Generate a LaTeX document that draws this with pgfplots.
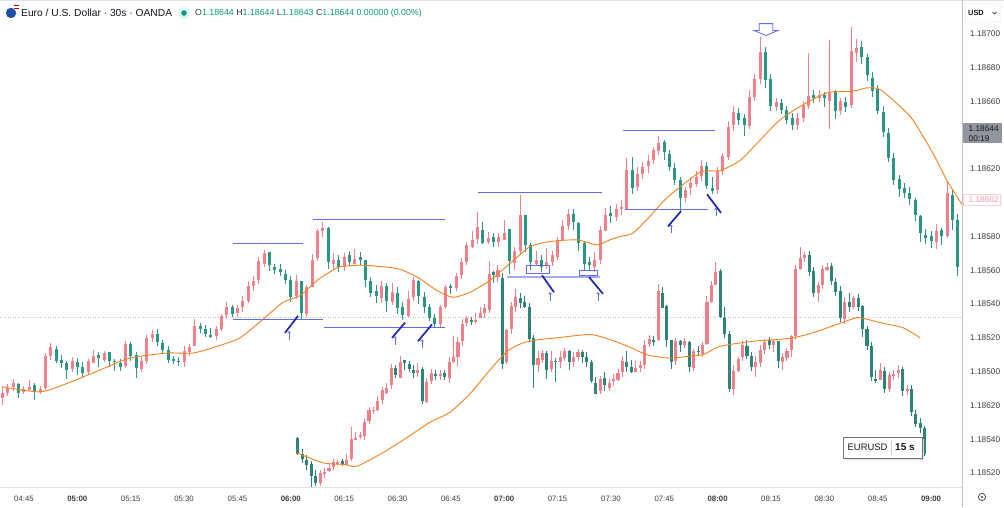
\documentclass[border=0pt]{standalone}
\usepackage{fontspec}
\setmainfont{Liberation Sans}
\usepackage{pgfplots}
\pgfplotsset{compat=1.18}
\usepackage{pgfplotstable}
\usetikzlibrary{arrows.meta}
\definecolor{upc}{RGB}{240,128,138}
\definecolor{dnc}{RGB}{44,150,134}
\definecolor{upl}{RGB}{238,128,138}
\definecolor{dnl}{RGB}{46,132,120}
\definecolor{maor}{RGB}{247,128,30}
\definecolor{bl}{RGB}{98,108,228}
\definecolor{bll}{RGB}{165,170,238}
\definecolor{bld}{RGB}{32,38,172}
\definecolor{txt}{RGB}{19,23,34}
\definecolor{tl}{RGB}{60,62,70}
\definecolor{tvg}{RGB}{8,153,129}
\definecolor{sep}{RGB}{190,193,200}
\definecolor{sep2}{RGB}{222,224,230}
\definecolor{gbox}{RGB}{146,149,157}
\definecolor{pinkc}{RGB}{244,150,170}
\definecolor{pinkb}{RGB}{250,205,215}
\definecolor{flagb}{RGB}{30,80,170}
\definecolor{halo}{RGB}{225,243,238}

\pgfplotstableread{
x o h l c
-6 1.18486 1.18492 1.18481 1.18489
-4.5 1.18489 1.18494 1.18487 1.18492
-3 1.18492 1.18496 1.18489 1.18494
-1.5 1.18494 1.18495 1.18486 1.18489
0 1.18489 1.18493 1.18488 1.18491
1.5 1.18491 1.18496 1.18490 1.18493
3 1.18493 1.18494 1.18484 1.18489
4.5 1.18489 1.18493 1.18488 1.18491
6 1.18491 1.18512 1.18490 1.18510
7.5 1.18510 1.18518 1.18508 1.18515
9 1.18515 1.18516 1.18506 1.18508
10.5 1.18508 1.18510 1.18502 1.18506
12 1.18506 1.18508 1.18497 1.18502
13.5 1.18502 1.18509 1.18500 1.18507
15 1.18507 1.18509 1.18499 1.18504
16.5 1.18504 1.18506 1.18497 1.18500
18 1.18500 1.18508 1.18499 1.18506
19.5 1.18506 1.18513 1.18505 1.18510
21 1.18510 1.18512 1.18503 1.18508
22.5 1.18508 1.18513 1.18506 1.18512
24 1.18512 1.18513 1.18504 1.18507
25.5 1.18507 1.18509 1.18502 1.18506
27 1.18506 1.18508 1.18501 1.18504
28.5 1.18504 1.18519 1.18503 1.18517
30 1.18517 1.18518 1.18507 1.18510
31.5 1.18510 1.18512 1.18497 1.18502
33 1.18502 1.18509 1.18500 1.18507
34.5 1.18507 1.18523 1.18506 1.18521
36 1.18521 1.18526 1.18519 1.18523
37.5 1.18523 1.18525 1.18515 1.18518
39 1.18518 1.18520 1.18512 1.18514
40.5 1.18514 1.18516 1.18506 1.18508
42 1.18508 1.18510 1.18505 1.18507
43.5 1.18507 1.18509 1.18504 1.18506
45 1.18506 1.18515 1.18503 1.18513
46.5 1.18513 1.18518 1.18511 1.18516
48 1.18516 1.18531 1.18515 1.18528
49.5 1.18528 1.18529 1.18523 1.18526
51 1.18526 1.18528 1.18521 1.18523
52.5 1.18523 1.18526 1.18520 1.18522
54 1.18522 1.18528 1.18520 1.18526
55.5 1.18526 1.18535 1.18525 1.18534
57 1.18534 1.18542 1.18532 1.18539
58.5 1.18539 1.18541 1.18534 1.18535
60 1.18535 1.18540 1.18533 1.18538
61.5 1.18538 1.18545 1.18536 1.18542
63 1.18542 1.18554 1.18541 1.18551
64.5 1.18551 1.18557 1.18548 1.18554
66 1.18554 1.18568 1.18552 1.18565
67.5 1.18565 1.18573 1.18563 1.18571
69 1.18571 1.18572 1.18561 1.18563
70.5 1.18563 1.18565 1.18559 1.18561
72 1.18561 1.18564 1.18557 1.18559
73.5 1.18559 1.18561 1.18553 1.18555
75 1.18555 1.18557 1.18542 1.18545
76.5 1.18545 1.18558 1.18544 1.18554
78 1.18554 1.18555 1.18532 1.18535
79.5 1.18535 1.18553 1.18534 1.18551
81 1.18551 1.18569 1.18550 1.18567
82.5 1.18567 1.18585 1.18566 1.18583
84 1.18583 1.18589 1.18580 1.18585
85.5 1.18585 1.18586 1.18561 1.18565
87 1.18565 1.18571 1.18561 1.18567
88.5 1.18567 1.18570 1.18560 1.18563
90 1.18563 1.18572 1.18561 1.18569
91.5 1.18569 1.18572 1.18563 1.18565
93 1.18565 1.18573 1.18564 1.18568
94.5 1.18568 1.18572 1.18564 1.18566
96 1.18566 1.18567 1.18551 1.18554
97.5 1.18554 1.18557 1.18545 1.18547
99 1.18547 1.18551 1.18540 1.18544
100.5 1.18544 1.18554 1.18541 1.18551
102 1.18551 1.18553 1.18536 1.18542
103.5 1.18542 1.18552 1.18539 1.18548
105 1.18548 1.18551 1.18535 1.18539
106.5 1.18539 1.18542 1.18531 1.18534
108 1.18534 1.18547 1.18532 1.18544
109.5 1.18544 1.18556 1.18542 1.18554
111 1.18554 1.18555 1.18541 1.18545
112.5 1.18545 1.18548 1.18536 1.18539
114 1.18539 1.18541 1.18531 1.18533
115.5 1.18533 1.18535 1.18527 1.18529
117 1.18529 1.18541 1.18528 1.18539
118.5 1.18539 1.18552 1.18538 1.18551
120 1.18551 1.18553 1.18547 1.18550
121.5 1.18550 1.18559 1.18548 1.18557
123 1.18557 1.18567 1.18555 1.18565
124.5 1.18565 1.18577 1.18563 1.18575
126 1.18575 1.18583 1.18573 1.18579
127.5 1.18579 1.18596 1.18577 1.18586
129 1.18586 1.18589 1.18576 1.18578
130.5 1.18578 1.18583 1.18576 1.18580
132 1.18580 1.18582 1.18574 1.18577
133.5 1.18577 1.18583 1.18575 1.18580
135 1.18580 1.18590 1.18579 1.18584
136.5 1.18584 1.18585 1.18559 1.18565
138 1.18565 1.18575 1.18561 1.18572
139.5 1.18572 1.18605 1.18570 1.18593
141 1.18593 1.18594 1.18572 1.18575
142.5 1.18575 1.18577 1.18561 1.18565
144 1.18565 1.18572 1.18563 1.18567
145.5 1.18567 1.18570 1.18560 1.18563
147 1.18563 1.18573 1.18561 1.18565
148.5 1.18565 1.18572 1.18563 1.18569
150 1.18569 1.18581 1.18567 1.18579
151.5 1.18579 1.18590 1.18578 1.18587
153 1.18587 1.18597 1.18585 1.18594
154.5 1.18594 1.18596 1.18584 1.18589
156 1.18589 1.18590 1.18573 1.18577
157.5 1.18577 1.18578 1.18561 1.18565
159 1.18565 1.18568 1.18560 1.18563
160.5 1.18563 1.18572 1.18560 1.18567
162 1.18567 1.18587 1.18565 1.18585
163.5 1.18585 1.18597 1.18583 1.18594
165 1.18594 1.18599 1.18589 1.18592
166.5 1.18592 1.18600 1.18590 1.18597
168 1.18597 1.18602 1.18593 1.18598
169.5 1.18598 1.18627 1.18596 1.18621
171 1.18621 1.18628 1.18606 1.18610
172.5 1.18610 1.18622 1.18608 1.18618
174 1.18618 1.18625 1.18615 1.18622
175.5 1.18622 1.18630 1.18619 1.18625
177 1.18625 1.18634 1.18624 1.18631
178.5 1.18631 1.18641 1.18630 1.18636
180 1.18636 1.18638 1.18626 1.18630
181.5 1.18630 1.18632 1.18619 1.18622
183 1.18622 1.18625 1.18612 1.18615
184.5 1.18615 1.18616 1.18596 1.18604
186 1.18604 1.18611 1.18602 1.18609
187.5 1.18609 1.18616 1.18605 1.18612
189 1.18612 1.18619 1.18610 1.18616
190.5 1.18616 1.18625 1.18613 1.18622
192 1.18622 1.18624 1.18608 1.18610
193.5 1.18610 1.18615 1.18605 1.18608
195 1.18608 1.18622 1.18606 1.18619
196.5 1.18619 1.18631 1.18618 1.18628
198 1.18628 1.18649 1.18626 1.18646
199.5 1.18646 1.18658 1.18643 1.18654
201 1.18654 1.18656 1.18646 1.18650
202.5 1.18650 1.18654 1.18641 1.18646
204 1.18646 1.18667 1.18644 1.18663
205.5 1.18663 1.18677 1.18661 1.18674
207 1.18674 1.18699 1.18671 1.18690
208.5 1.18690 1.18693 1.18669 1.18673
210 1.18673 1.18676 1.18654 1.18657
211.5 1.18657 1.18663 1.18655 1.18660
213 1.18660 1.18662 1.18653 1.18656
214.5 1.18656 1.18658 1.18647 1.18650
216 1.18650 1.18653 1.18643 1.18646
217.5 1.18646 1.18654 1.18644 1.18650
219 1.18650 1.18661 1.18649 1.18658
220.5 1.18658 1.18689 1.18656 1.18664
222 1.18664 1.18667 1.18659 1.18662
223.5 1.18662 1.18667 1.18660 1.18664
225 1.18664 1.18667 1.18658 1.18662
226.5 1.18662 1.18698 1.18645 1.18667
228 1.18667 1.18668 1.18651 1.18655
229.5 1.18655 1.18663 1.18653 1.18661
231 1.18661 1.18664 1.18655 1.18658
232.5 1.18658 1.18704 1.18656 1.18690
234 1.18690 1.18698 1.18684 1.18693
235.5 1.18693 1.18696 1.18682 1.18687
237 1.18687 1.18689 1.18673 1.18676
238.5 1.18676 1.18679 1.18664 1.18668
240 1.18668 1.18670 1.18653 1.18655
241.5 1.18655 1.18657 1.18639 1.18643
243 1.18643 1.18645 1.18625 1.18628
244.5 1.18628 1.18631 1.18612 1.18615
246 1.18615 1.18617 1.18604 1.18609
247.5 1.18609 1.18612 1.18603 1.18606
249 1.18606 1.18610 1.18599 1.18602
250.5 1.18602 1.18604 1.18590 1.18593
252 1.18593 1.18594 1.18578 1.18583
253.5 1.18583 1.18586 1.18577 1.18581
255 1.18581 1.18584 1.18574 1.18578
256.5 1.18578 1.18589 1.18574 1.18585
258 1.18585 1.18587 1.18577 1.18581
259.5 1.18581 1.18613 1.18579 1.18606
261 1.18606 1.18609 1.18585 1.18591
262.5 1.18591 1.18593 1.18556 1.18563
}\uppertab

\pgfplotstableread{
x o h l c
77 1.18461 1.18462 1.18451 1.18452
78.25 1.18452 1.18454 1.18446 1.18449
79.5 1.18449 1.18451 1.18442 1.18446
80.75 1.18446 1.18448 1.18432 1.18439
82 1.18439 1.18443 1.18433 1.18435
83.25 1.18435 1.18442 1.18433 1.18441
84.5 1.18441 1.18444 1.18438 1.18442
85.75 1.18442 1.18446 1.18441 1.18444
87 1.18444 1.18449 1.18443 1.18447
88.25 1.18447 1.18449 1.18446 1.18448
89.5 1.18448 1.18449 1.18445 1.18446
90.75 1.18446 1.18451 1.18445 1.18449
92 1.18449 1.18468 1.18448 1.18461
93.25 1.18461 1.18465 1.18460 1.18462
94.5 1.18462 1.18465 1.18461 1.18463
95.75 1.18463 1.18474 1.18461 1.18471
97 1.18471 1.18480 1.18470 1.18477
98.25 1.18477 1.18480 1.18476 1.18478
99.5 1.18478 1.18486 1.18477 1.18483
100.75 1.18483 1.18491 1.18481 1.18489
102 1.18489 1.18495 1.18488 1.18492
103.25 1.18492 1.18505 1.18490 1.18502
104.5 1.18502 1.18504 1.18496 1.18498
105.75 1.18498 1.18509 1.18497 1.18507
107 1.18507 1.18508 1.18502 1.18505
108.25 1.18505 1.18507 1.18500 1.18502
109.5 1.18502 1.18505 1.18497 1.18500
110.75 1.18500 1.18506 1.18498 1.18502
112 1.18502 1.18504 1.18482 1.18483
113.25 1.18483 1.18497 1.18482 1.18495
114.5 1.18495 1.18502 1.18493 1.18500
115.75 1.18500 1.18502 1.18496 1.18499
117 1.18499 1.18502 1.18496 1.18500
118.25 1.18500 1.18502 1.18496 1.18498
119.5 1.18498 1.18510 1.18495 1.18507
120.75 1.18507 1.18522 1.18506 1.18510
122 1.18510 1.18521 1.18504 1.18519
123.25 1.18519 1.18532 1.18516 1.18529
124.5 1.18529 1.18534 1.18528 1.18532
125.75 1.18532 1.18534 1.18529 1.18531
127 1.18531 1.18535 1.18529 1.18532
128.25 1.18532 1.18538 1.18532 1.18535
129.5 1.18535 1.18541 1.18533 1.18538
130.75 1.18538 1.18566 1.18535 1.18559
132 1.18559 1.18561 1.18554 1.18557
133.25 1.18557 1.18563 1.18553 1.18561
134.5 1.18557 1.18560 1.18503 1.18506
135.75 1.18506 1.18526 1.18505 1.18525
137 1.18525 1.18542 1.18523 1.18539
138.25 1.18539 1.18550 1.18536 1.18545
139.5 1.18545 1.18548 1.18539 1.18542
140.75 1.18542 1.18545 1.18538 1.18539
142 1.18539 1.18541 1.18518 1.18520
143.25 1.18520 1.18522 1.18491 1.18504
144.5 1.18504 1.18512 1.18500 1.18508
145.75 1.18508 1.18514 1.18506 1.18512
147 1.18512 1.18513 1.18496 1.18502
148.25 1.18502 1.18512 1.18500 1.18507
149.5 1.18507 1.18509 1.18495 1.18506
150.75 1.18506 1.18513 1.18503 1.18509
152 1.18509 1.18515 1.18507 1.18513
153.25 1.18513 1.18514 1.18502 1.18506
154.5 1.18506 1.18513 1.18504 1.18509
155.75 1.18509 1.18514 1.18507 1.18512
157 1.18512 1.18514 1.18506 1.18509
158.25 1.18509 1.18512 1.18503 1.18506
159.5 1.18506 1.18507 1.18493 1.18495
160.75 1.18495 1.18498 1.18488 1.18489
162 1.18489 1.18499 1.18488 1.18496
163.25 1.18496 1.18500 1.18489 1.18492
164.5 1.18492 1.18497 1.18490 1.18495
165.75 1.18495 1.18500 1.18493 1.18496
167 1.18496 1.18502 1.18495 1.18500
168.25 1.18500 1.18510 1.18498 1.18507
169.5 1.18507 1.18513 1.18500 1.18504
170.75 1.18504 1.18507 1.18499 1.18501
172 1.18501 1.18506 1.18500 1.18503
173.25 1.18503 1.18507 1.18501 1.18505
174.5 1.18505 1.18519 1.18502 1.18517
175.75 1.18517 1.18522 1.18515 1.18520
177 1.18520 1.18522 1.18516 1.18519
178.25 1.18519 1.18552 1.18518 1.18548
179.5 1.18548 1.18550 1.18538 1.18539
180.75 1.18539 1.18541 1.18516 1.18519
182 1.18519 1.18520 1.18503 1.18506
183.25 1.18506 1.18520 1.18504 1.18518
184.5 1.18518 1.18520 1.18513 1.18516
185.75 1.18516 1.18520 1.18514 1.18518
187 1.18518 1.18519 1.18501 1.18503
188.25 1.18503 1.18515 1.18502 1.18513
189.5 1.18513 1.18515 1.18509 1.18512
190.75 1.18512 1.18519 1.18510 1.18517
192 1.18517 1.18545 1.18516 1.18542
193.25 1.18542 1.18554 1.18541 1.18552
194.5 1.18552 1.18565 1.18551 1.18560
195.75 1.18560 1.18561 1.18532 1.18533
197 1.18533 1.18539 1.18521 1.18523
198.25 1.18523 1.18525 1.18489 1.18491
199.5 1.18491 1.18505 1.18487 1.18502
200.75 1.18502 1.18510 1.18501 1.18509
202 1.18509 1.18519 1.18507 1.18516
203.25 1.18516 1.18519 1.18508 1.18510
204.5 1.18510 1.18512 1.18501 1.18503
205.75 1.18503 1.18509 1.18497 1.18506
207 1.18506 1.18516 1.18503 1.18514
208.25 1.18514 1.18521 1.18512 1.18519
209.5 1.18519 1.18521 1.18514 1.18516
210.75 1.18516 1.18520 1.18513 1.18518
212 1.18518 1.18519 1.18503 1.18506
213.25 1.18506 1.18512 1.18502 1.18509
214.5 1.18509 1.18515 1.18507 1.18513
215.75 1.18513 1.18523 1.18510 1.18521
217 1.18521 1.18563 1.18519 1.18561
218.25 1.18561 1.18574 1.18560 1.18568
219.5 1.18568 1.18572 1.18566 1.18570
220.75 1.18570 1.18572 1.18557 1.18560
222 1.18560 1.18563 1.18545 1.18547
223.25 1.18547 1.18554 1.18542 1.18552
224.5 1.18552 1.18564 1.18550 1.18561
225.75 1.18561 1.18565 1.18560 1.18563
227 1.18563 1.18565 1.18552 1.18554
228.25 1.18554 1.18557 1.18546 1.18548
229.5 1.18548 1.18550 1.18529 1.18532
230.75 1.18532 1.18545 1.18529 1.18542
232 1.18542 1.18547 1.18536 1.18539
233.25 1.18539 1.18546 1.18538 1.18544
234.5 1.18544 1.18546 1.18536 1.18539
235.75 1.18539 1.18541 1.18522 1.18525
237 1.18525 1.18527 1.18513 1.18515
238.25 1.18515 1.18518 1.18495 1.18497
239.5 1.18497 1.18501 1.18493 1.18496
240.75 1.18496 1.18505 1.18495 1.18502
242 1.18502 1.18504 1.18489 1.18491
243.25 1.18491 1.18501 1.18489 1.18499
244.5 1.18499 1.18502 1.18496 1.18500
245.75 1.18500 1.18505 1.18497 1.18502
247 1.18502 1.18503 1.18486 1.18489
248.25 1.18489 1.18493 1.18487 1.18490
249.5 1.18490 1.18492 1.18474 1.18476
250.75 1.18476 1.18478 1.18468 1.18470
252 1.18470 1.18473 1.18464 1.18467
253.25 1.18467 1.18468 1.18450 1.18452
}\lowertab

\pgfplotsset{
  cndl/.style 2 args={draw=none, mark=none, error bars/.cd, y dir=both, y explicit, error mark=none, error bar style={draw=#1, line width=#2}},
  upsel/.style={restrict expr to domain={\thisrow{c}-\thisrow{o}}{0:1}},
  dnsel/.style={restrict expr to domain={\thisrow{c}-\thisrow{o}}{-1:-0.000001}},
}

\begin{document}
\begin{tikzpicture}
\fill[white] (0pt,0pt) rectangle (1004pt,507pt);
\useasboundingbox (0pt,0pt) rectangle (1004pt,507pt);
\begin{axis}[
  at={(0pt,20pt)}, anchor=south west,
  scale only axis, width=962pt, height=487pt,
  xmin=-6.747, xmax=263.70, ymin=1.184317, ymax=1.18720,
  clip=false,
  axis line style={draw=none},
  major tick length=0pt, tick style={draw=none},
  scaled x ticks=false, scaled y ticks=false,
  xtick={0,15,30,45,60,75,90,105,120,135,150,165,180,195,210,225,240,255},
  xticklabels={04:45,\textbf{05:00},05:15,05:30,05:45,\textbf{06:00},06:15,06:30,06:45,\textbf{07:00},07:15,07:30,07:45,\textbf{08:00},08:15,08:30,08:45,\textbf{09:00}},
  x tick label style={font=\fontsize{7.8}{9}\selectfont, text=tl, anchor=center, yshift=-12pt},
  ytick={1.1844,1.1846,1.1848,1.1850,1.1852,1.1854,1.1856,1.1858,1.1862,1.1866,1.1868,1.1870},
  yticklabels={1.18520,1.18540,1.18620,1.18500,1.18520,1.18540,1.18560,1.18580,1.18620,1.18660,1.18680,1.18700},
  yticklabel pos=right,
  y tick label style={font=\fontsize{8.3}{9}\selectfont, text=tl, anchor=west, inner sep=0pt, xshift=8pt},
]
% dotted price line
\draw[sep, line width=0.8pt, dash pattern=on 1pt off 1.5pt] (axis cs:-6.747,1.18532) -- (axis cs:263.70,1.18532);

% ---- upper 30s candles
\addplot[upsel, cndl={upc}{1pt}] table[x=x, y expr={(\thisrow{h}+\thisrow{l})/2}, y error expr={(\thisrow{h}-\thisrow{l})/2}] {\uppertab};
\addplot[dnsel, cndl={dnc}{1pt}] table[x=x, y expr={(\thisrow{h}+\thisrow{l})/2}, y error expr={(\thisrow{h}-\thisrow{l})/2}] {\uppertab};
\addplot[upsel, cndl={upc}{3pt}] table[x=x, y expr={(\thisrow{o}+\thisrow{c})/2}, y error expr={(\thisrow{c}-\thisrow{o})/2}] {\uppertab};
\addplot[dnsel, cndl={dnc}{3pt}] table[x=x, y expr={(\thisrow{o}+\thisrow{c})/2}, y error expr={(\thisrow{o}-\thisrow{c})/2}] {\uppertab};

% ---- lower 15s candles
\addplot[upsel, cndl={upl}{1pt}] table[x=x, y expr={(\thisrow{h}+\thisrow{l})/2}, y error expr={(\thisrow{h}-\thisrow{l})/2}] {\lowertab};
\addplot[dnsel, cndl={dnl}{1pt}] table[x=x, y expr={(\thisrow{h}+\thisrow{l})/2}, y error expr={(\thisrow{h}-\thisrow{l})/2}] {\lowertab};
\addplot[upsel, cndl={upl}{3.1pt}] table[x=x, y expr={(\thisrow{o}+\thisrow{c})/2}, y error expr={(\thisrow{c}-\thisrow{o})/2}] {\lowertab};
\addplot[dnsel, cndl={dnl}{3.1pt}] table[x=x, y expr={(\thisrow{o}+\thisrow{c})/2}, y error expr={(\thisrow{o}-\thisrow{c})/2}] {\lowertab};

% ---- moving averages
\addplot[maor, line width=0.9pt, mark=none, smooth, tension=0.4] coordinates {
(-5.9,1.18491) (4.5,1.18488) (12.1,1.18493) (21.4,1.18501) (29.8,1.18508) (40.2,1.18511) (47.5,1.18511) (54.3,1.18515) (60.7,1.18520) (67.2,1.18531) (72.8,1.18541) (77.6,1.18545) (82.4,1.18554) (86.0,1.18559) (88.8,1.18562) (95.3,1.18563) (104.9,1.18561) (110.5,1.18556) (116.1,1.18548) (120.6,1.18544) (125.4,1.18547) (131.0,1.18554) (136.6,1.18564) (142.3,1.18574) (147.9,1.18577) (155.5,1.18578) (161.1,1.18575) (164.7,1.18578) (167.6,1.18580) (171.2,1.18582) (176.0,1.18592) (180.8,1.18603) (190.0,1.18618) (195.7,1.18619) (201.3,1.18625) (206.9,1.18637) (212.5,1.18649) (218.2,1.18657) (225.7,1.18665) (233.1,1.18666) (237.0,1.18668) (240.7,1.18667) (246.3,1.18657) (249.9,1.18649) (255.6,1.18629) (259.5,1.18613) (263.7,1.18599)};
\addplot[maor, line width=0.9pt, mark=none, smooth, tension=0.4] coordinates {
(76.7,1.18452) (84.1,1.18446) (90.2,1.18445) (93.6,1.18444) (100.9,1.18452) (107.7,1.18461) (114.1,1.18470) (119.8,1.18476) (125.4,1.18487) (131.0,1.18501) (135.8,1.18512) (140.3,1.18517) (145.1,1.18519) (149.8,1.18520) (159.1,1.18522) (164.7,1.18519) (169.8,1.18515) (175.1,1.18510) (181.6,1.18508) (186.4,1.18509) (190.9,1.18510) (195.7,1.18515) (205.0,1.18518) (211.7,1.18519) (216.2,1.18520) (221.8,1.18523) (228.6,1.18528) (234.2,1.18532) (237.0,1.18531) (240.7,1.18529) (247.1,1.18526) (251.9,1.18520)};

% ---- annotations: horizontal levels
\draw[bl, line width=0.9pt] (axis cs:58.76,1.18576) -- (axis cs:78.44,1.18576);
\draw[bl, line width=0.9pt] (axis cs:58.76,1.18531) -- (axis cs:84.06,1.18531);
\draw[bl, line width=0.9pt] (axis cs:81.25,1.18590) -- (axis cs:118.36,1.18590);
\draw[bl, line width=0.9pt] (axis cs:84.34,1.18526) -- (axis cs:118.36,1.18526);
\draw[bl, line width=0.9pt] (axis cs:127.64,1.18606) -- (axis cs:162.50,1.18606);
\draw[bll, line width=1.2pt] (axis cs:135.79,1.18556) -- (axis cs:161.93,1.18556);
\draw[bl, line width=0.9pt] (axis cs:168.40,1.18643) -- (axis cs:194.27,1.18643);
\draw[bl, line width=0.9pt] (axis cs:168.96,1.18596) -- (axis cs:192.30,1.18596);
% boxes
\draw[bl, line width=0.8pt] (axis cs:141.13,1.18563) rectangle (axis cs:147.60,1.18558);
\draw[bl, line width=0.8pt] (axis cs:156.03,1.18560) rectangle (axis cs:161.09,1.18557);
% diagonal strokes
\draw[bld, line width=1.7pt] (axis cs:73.38,1.18523) -- (axis cs:77.03,1.18533);
\draw[bld, line width=1.7pt] (axis cs:103.46,1.18520) -- (axis cs:107.11,1.18529);
\draw[bld, line width=1.7pt] (axis cs:110.77,1.18518) -- (axis cs:114.70,1.18528);
\draw[bld, line width=1.7pt] (axis cs:145.63,1.18557) -- (axis cs:149.00,1.18547);
\draw[bld, line width=1.7pt] (axis cs:158.84,1.18556) -- (axis cs:162.78,1.18546);
\draw[bld, line width=1.7pt] (axis cs:184.71,1.18595) -- (axis cs:181.05,1.18586);
\draw[bld, line width=1.7pt] (axis cs:192.02,1.18605) -- (axis cs:195.95,1.18594);
% small up arrows
\begin{scope}[bl, line width=0.8pt, -{To[length=2.2pt,width=3.4pt]}]
\draw (axis cs:74.50,1.18519) -- (axis cs:74.50,1.18524);
\draw (axis cs:104.30,1.18516) -- (axis cs:104.30,1.18521);
\draw (axis cs:111.89,1.18514) -- (axis cs:111.89,1.18519);
\draw (axis cs:147.88,1.18542) -- (axis cs:147.88,1.18547);
\draw (axis cs:161.37,1.18542) -- (axis cs:161.37,1.18547);
\draw (axis cs:181.89,1.18582) -- (axis cs:181.89,1.18587);
\draw (axis cs:194.55,1.18592) -- (axis cs:194.55,1.18597);
\end{scope}
% hollow down arrow at top
\draw[bl, line width=0.8pt, fill=white] (axis cs:206.72,1.18706) -- (axis cs:210.49,1.18706) -- (axis cs:210.49,1.18702) -- (axis cs:212.06,1.18702) -- (axis cs:208.60,1.18699) -- (axis cs:205.15,1.18702) -- (axis cs:206.72,1.18702) -- cycle;
\end{axis}

% ---- frame elements
\draw[sep2, line width=1pt] (0pt,506.5pt) -- (1004pt,506.5pt);
\draw[sep2, line width=1pt] (0pt,20pt) -- (962pt,20pt);
\draw[sep, line width=1pt] (962.5pt,0pt) -- (962.5pt,507pt);

% header
\fill[flagb] (11pt,494pt) circle (5.2pt);
\fill[white] (13.5pt,497pt) rectangle (18.5pt,501.5pt);
\fill[red!80!black] (13.5pt,500.5pt) rectangle (18.5pt,501.5pt);
\fill[red!80!black] (13.5pt,498.5pt) rectangle (18.5pt,499.3pt);
\fill[halo] (184pt,494pt) circle (6pt);
\fill[tvg] (184pt,494pt) circle (2.8pt);
\node[anchor=west, inner sep=0pt, font=\fontsize{10.25}{12}\selectfont, text=txt] at (21pt,494pt) {Euro / U.S. Dollar · 30s · OANDA};
\node[anchor=west, inner sep=0pt, font=\fontsize{8.8}{10}\selectfont, text=tvg] at (195pt,494pt) {\textcolor{tl}{O}1.18644 \textcolor{tl}{H}1.18644 \textcolor{tl}{L}1.18643 \textcolor{tl}{C}1.18644 0.00000 (0.00\%)};

% right scale extras
\draw[sep2, fill=white, rounded corners=2pt] (965.5pt,485pt) rectangle (1000.5pt,503pt);
\node[anchor=west, inner sep=0pt, font=\bfseries\fontsize{7.4}{9}\selectfont, text=txt] at (968pt,494pt) {USD};
\draw[txt, line width=0.6pt] (992.5pt,495pt) -- (994.5pt,493pt) -- (996.5pt,495pt);
\fill[gbox] (963pt,364pt) rectangle (1002pt,384pt);
\node[anchor=west, inner sep=0pt, font=\fontsize{8.3}{9}\selectfont, text=txt] at (968.5pt,378pt) {1.18644};
\node[anchor=west, inner sep=0pt, font=\fontsize{8.3}{9}\selectfont, text=txt] at (968.5pt,368.5pt) {00:19};
\draw[pinkb, fill=white, line width=0.8pt] (963.5pt,301.5pt) rectangle (1000pt,312.5pt);
\node[anchor=west, inner sep=0pt, font=\fontsize{8.3}{9}\selectfont, text=pinkc] at (968.5pt,307pt) {1.18602};
\draw[tl, line width=0.7pt] (982pt,10pt) circle (3.6pt);
\fill[tl] (982pt,10pt) circle (1.2pt);

% timeframe label
\fill[black!12] (845pt,47pt) rectangle (924pt,68pt);
\draw[black!55, fill=white, line width=0.7pt] (843pt,49pt) rectangle (922pt,70pt);
\node[anchor=west, inner sep=0pt, font=\fontsize{9.4}{11}\selectfont, text=txt] at (847.5pt,59.5pt) {EURUSD};
\draw[black!20, line width=0.6pt] (891pt,52pt) -- (891pt,67pt);
\node[anchor=west, inner sep=0pt, font=\bfseries\fontsize{10}{11}\selectfont, text=txt] at (895pt,59.5pt) {15 s};
\end{tikzpicture}
\end{document}
